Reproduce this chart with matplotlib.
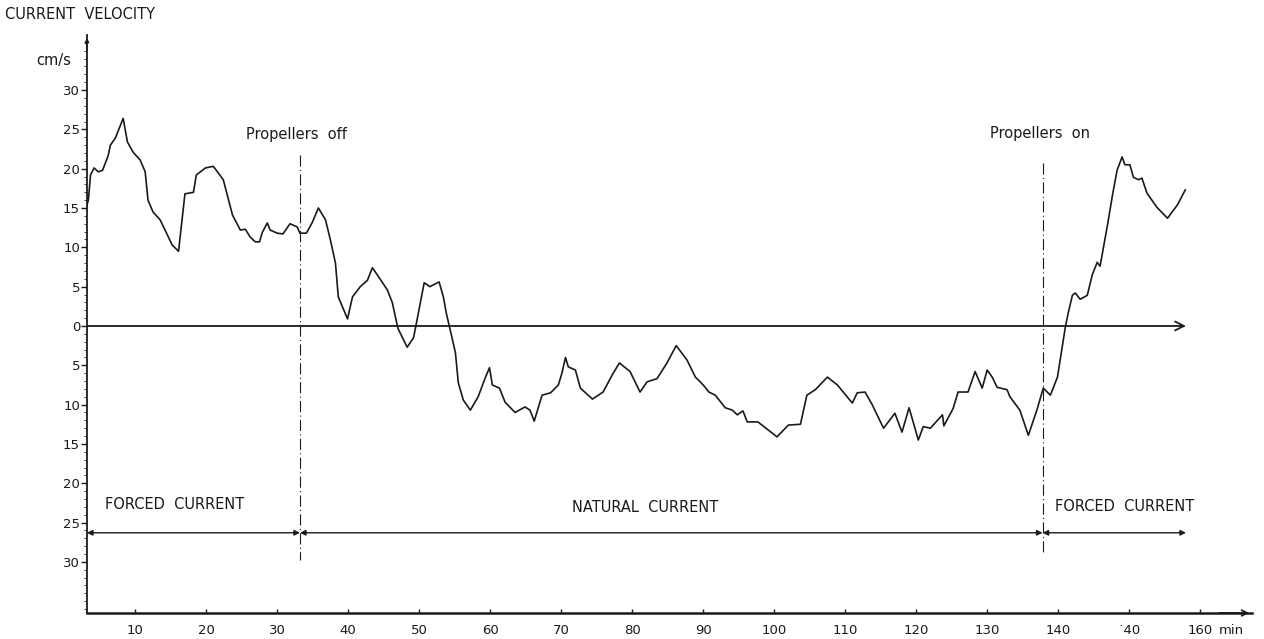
import matplotlib
matplotlib.use("Agg")
import matplotlib.pyplot as plt
import numpy as np

# current velocity record (minutes, cm/s)
t_min = [3.1, 3.4, 3.7, 4.2, 4.8, 5.4, 6.2, 6.5, 7.2, 8.3, 8.9, 9.7, 10.7, 11.4,
         11.8, 12.5, 13.5, 14.2, 15.2, 16.1, 16.6, 17.0, 18.2, 18.6, 19.9, 21.0,
         22.4, 23.7, 24.8, 25.5, 26.2, 26.9, 27.5, 27.9, 28.6, 29.0, 30.0, 30.8,
         31.8, 32.8, 33.2, 34.1, 34.9, 35.8, 36.8, 37.5, 38.2, 38.6, 39.9, 40.6,
         41.7, 42.7, 43.4, 44.1, 45.5, 46.2, 47.0, 48.3, 49.2, 49.7, 50.7, 51.5,
         52.8, 53.4, 53.8, 55.1, 55.5, 56.2, 57.2, 58.3, 59.3, 59.9, 60.3, 61.3,
         62.1, 63.5, 64.9, 65.6, 66.2, 67.3, 68.5, 69.6, 70.1, 70.6, 71.0, 72.0,
         72.7, 74.4, 75.9, 77.2, 78.2, 79.7, 81.1, 82.1, 83.5, 84.9, 86.2, 87.7,
         88.9, 90.0, 90.8, 91.7, 93.1, 94.1, 94.8, 95.6, 96.2, 97.7, 100.4, 102.0,
         103.7, 104.6, 105.8, 107.5, 108.9, 111.0, 111.7, 112.8, 113.8, 115.4,
         117.0, 118.0, 119.0, 120.3, 121.0, 122.0, 123.7, 123.9, 125.2, 125.9,
         127.3, 128.3, 129.3, 130.0, 130.7, 131.4, 132.8, 133.2, 134.6, 135.8,
         137.0, 137.9, 138.9, 139.9, 141.0, 141.4, 142.0, 142.4, 143.1, 144.1,
         144.8, 145.5, 145.9, 146.9, 147.7, 148.3, 149.0, 149.4, 150.1, 150.6,
         151.3, 151.8, 152.5, 153.9, 155.4, 156.8, 157.9]
velocity = [15.1, 16.0, 19.2, 20.1, 19.6, 19.8, 21.7, 23.0, 23.9, 26.4, 23.4, 22.1,
            21.1, 19.6, 16.0, 14.5, 13.5, 12.2, 10.3, 9.5, 13.5, 16.8, 17.0, 19.2,
            20.1, 20.3, 18.6, 14.1, 12.2, 12.3, 11.3, 10.7, 10.7, 11.9, 13.1, 12.2,
            11.8, 11.7, 13.0, 12.6, 11.8, 11.8, 13.1, 15.0, 13.5, 10.9, 8.0, 3.7,
            0.9, 3.7, 5.0, 5.8, 7.4, 6.5, 4.6, 3.0, -0.3, -2.7, -1.5, 0.8, 5.5, 5.0,
            5.6, 3.7, 1.7, -3.4, -7.2, -9.4, -10.7, -9.0, -6.6, -5.3, -7.5, -7.9,
            -9.7, -11.0, -10.3, -10.7, -12.1, -8.8, -8.5, -7.5, -6.0, -4.0, -5.2,
            -5.6, -7.9, -9.3, -8.4, -6.2, -4.7, -5.8, -8.4, -7.1, -6.7, -4.7, -2.5,
            -4.3, -6.5, -7.5, -8.4, -8.8, -10.4, -10.7, -11.3, -10.8, -12.2, -12.2,
            -14.1, -12.6, -12.5, -8.8, -8.1, -6.5, -7.5, -9.8, -8.5, -8.4, -10.0,
            -13.0, -11.1, -13.5, -10.4, -14.5, -12.8, -13.0, -11.3, -12.7, -10.5,
            -8.4, -8.4, -5.8, -7.9, -5.6, -6.5, -7.8, -8.1, -9.0, -10.7, -13.9,
            -10.7, -7.9, -8.8, -6.5, -0.2, 1.6, 3.9, 4.2, 3.4, 3.9, 6.5, 8.1, 7.6,
            12.6, 16.9, 19.8, 21.5, 20.5, 20.5, 18.9, 18.6, 18.8, 16.9, 15.1, 13.7,
            15.4, 17.3]

x_ticks = [10, 20, 30, 40, 50, 60, 70, 80, 90, 100, 110, 120, 130, 140, 150, 160]
x_labels = ['10', '20', '30', '40', '50', '60', '70', '80', '90', '100', '110',
            '120', '130', '140', '\u02d940', '160']
y_ticks = [-30, -25, -20, -15, -10, -5, 0, 5, 10, 15, 20, 25, 30]

t_off = 33.2   # propellers switched off
t_on = 137.8   # propellers switched on
t_end = 158.0
y_band = -26.3

ink = '#1a1a1a'
fs = 10.5
plt.rcParams['font.family'] = ['DejaVu Sans']

fig = plt.figure(figsize=(12.64, 6.39), dpi=100)
ax = fig.add_axes([0.0688, 0.0407, 0.9217, 0.9045])
ax.set_xlim(3.2, 167.3)
ax.set_ylim(-36.5, 37.0)

ax.plot(t_min, velocity, color=ink, lw=1.2)

# spines
for s in ['top', 'right']:
    ax.spines[s].set_visible(False)
ax.spines['left'].set_linewidth(1.3)
ax.spines['bottom'].set_linewidth(1.8)
ax.spines['left'].set_color(ink)
ax.spines['bottom'].set_color(ink)

ax.set_xticks(x_ticks)
ax.set_xticklabels(x_labels)
ax.set_yticks(y_ticks)
ax.set_yticklabels([str(abs(v)) for v in y_ticks])
ax.set_yticks(np.arange(-36, 37, 1), minor=True)
ax.tick_params(axis='y', which='major', direction='out', length=4, width=1,
               labelsize=9.5, colors=ink, pad=1)
ax.tick_params(axis='y', which='minor', direction='out', length=2, width=0.6,
               colors=ink)
ax.tick_params(axis='x', which='major', direction='in', length=3, width=1,
               labelsize=9.5, colors=ink, pad=8)
ax.annotate('min', xy=(162.6, 0), xycoords=('data', 'axes fraction'),
            xytext=(0, -8), textcoords='offset points', fontsize=9.5,
            color=ink, ha='left', va='top')

# axis arrows
ax.annotate('', xy=(1.0, 0), xycoords='axes fraction', xytext=(0.97, 0),
            arrowprops=dict(arrowstyle='->', color=ink, lw=1.3))
ax.annotate('', xy=(0, 1.0), xycoords='axes fraction', xytext=(0, 0.97),
            arrowprops=dict(arrowstyle='-|>', color=ink, lw=1.0,
                            mutation_scale=6))

# zero line
ax.annotate('', xy=(t_end, 0), xytext=(3.2, 0),
            arrowprops=dict(arrowstyle='->', color=ink, lw=1.3,
                            mutation_scale=16, shrinkA=0, shrinkB=0))

# propeller markers
ax.plot([t_off, t_off], [21.7, -29.7], color=ink, lw=0.8, ls=(0, (10, 3, 1, 3)))
ax.plot([t_on, t_on], [20.7, -29.1], color=ink, lw=0.8, ls=(0, (10, 3, 1, 3)))
ax.text(25.6, 24.3, 'Propellers  off', fontsize=fs, color=ink, va='center')
ax.text(130.4, 24.5, 'Propellers  on', fontsize=fs, color=ink, va='center')

# current regime bands
for a, b in [(3.2, t_off), (t_off, t_on), (t_on, t_end)]:
    ax.annotate('', xy=(b, y_band), xytext=(a, y_band),
                arrowprops=dict(arrowstyle='<|-|>', color=ink, lw=1.0,
                                mutation_scale=8, shrinkA=0, shrinkB=0))
ax.text(5.8, -22.7, 'FORCED  CURRENT', fontsize=fs, color=ink, va='center')
ax.text(71.5, -23.1, 'NATURAL  CURRENT', fontsize=fs, color=ink, va='center')
ax.text(139.6, -22.9, 'FORCED  CURRENT', fontsize=fs, color=ink, va='center')

fig.text(0.004, 0.977, 'CURRENT  VELOCITY', fontsize=fs, color=ink, va='center')
fig.text(0.029, 0.906, 'cm/s', fontsize=fs, color=ink, va='center')

fig.savefig('out.png', dpi=100)
